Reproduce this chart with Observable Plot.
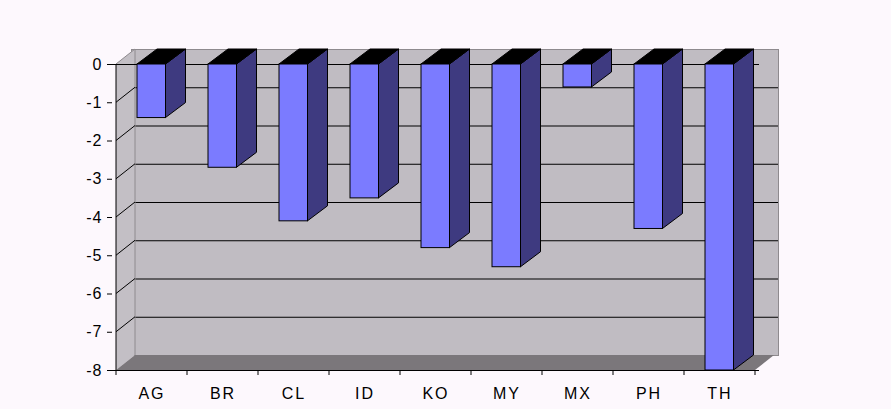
<!DOCTYPE html>
<html><head><meta charset="utf-8">
<script src="https://cdn.jsdelivr.net/npm/d3@7"></script>
<script src="https://cdn.jsdelivr.net/npm/@observablehq/plot@0.6"></script>
<style>
html,body{margin:0;padding:0;background:#fdf8fd;}
svg{display:block;}
g[aria-label="x-axis tick label"] text{letter-spacing:2px;}
g[aria-label="y-axis tick label"] text{letter-spacing:1px;}
</style></head><body><div id="chart"></div>
<script>
const countries = ["AG","BR","CL","ID","KO","MY","MX","PH","TH"];
const values = [-1.4,-2.7,-4.1,-3.5,-4.8,-5.3,-0.6,-4.3,-8.0];
const yTicks = [0,-1,-2,-3,-4,-5,-6,-7,-8];
const data = countries.map((c,i)=>({country:c, value:values[i]}));

const DX = 19, DY = -15;      // wall depth (px)
const BDX = 20, BDY = -15;    // bar depth (px)
const IL = 21, IR = 21.5;     // bar insets
const NS = "http://www.w3.org/2000/svg";
function el(tag, attrs){const e=document.createElementNS(NS,tag);for(const k in attrs)e.setAttribute(k,attrs[k]);return e;}
function poly(pts, attrs){return el("polygon", Object.assign({points: pts.map(p=>p.join(",")).join(" ")}, attrs));}

// left side wall + floor
function wallsMark(index, scales){
  const g = el("g",{});
  const x = scales.x, y = scales.y, bw = x.bandwidth();
  const x0 = x(countries[0]), x1 = x(countries[countries.length-1]) + bw;
  const yT = y(0), yB = y(-8);
  g.appendChild(poly([[x0,yT],[x0+DX,yT+DY],[x0+DX,yB+DY],[x0,yB]],{fill:"#c3bfc5",stroke:"none"}));
  g.appendChild(el("line",{x1:x0,y1:yT,x2:x0+DX,y2:yT+DY,stroke:"#8e8a8e"}));
  g.appendChild(el("line",{x1:x0+DX,y1:yT+DY,x2:x0+DX,y2:yB+DY,stroke:"#8e8a8e"}));
  for(const t of yTicks){ if(t===0||t===-8) continue;
    g.appendChild(el("line",{x1:x0,y1:y(t),x2:x0+DX,y2:y(t)+DY,stroke:"black"}));
  }
  g.appendChild(poly([[x0,yB],[x1,yB],[x1+DX,yB+DY],[x0+DX,yB+DY]],{fill:"#7b777b",stroke:"none"}));
  return g;
}

// bar sides and tops
function barDepthMark(index, scales){
  const g = el("g",{});
  const x = scales.x, y = scales.y, bw = x.bandwidth();
  for(const d of data){
    const xl = x(d.country)+IL, xr = x(d.country)+bw-IR, y0 = y(0), yv = y(d.value);
    g.appendChild(poly([[xr,y0],[xr+BDX,y0+BDY],[xr+BDX,yv+BDY],[xr,yv]],{fill:"#3e3a80",stroke:"black","stroke-width":1}));
    g.appendChild(poly([[xl,y0],[xr,y0],[xr+BDX,y0+BDY],[xl+BDX,y0+BDY]],{fill:"black",stroke:"black","stroke-width":1}));
  }
  return g;
}

// front axis lines and category boundary ticks
function axisLinesMark(index, scales){
  const g = el("g",{});
  const x = scales.x, y = scales.y, bw = x.bandwidth();
  const x0 = x(countries[0]);
  g.appendChild(el("line",{x1:x0,y1:y(0),x2:x0,y2:y(-8),stroke:"black"}));
  for(let i=0;i<=countries.length;i++){
    const xx = i<countries.length ? x(countries[i]) : x(countries[i-1])+bw;
    g.appendChild(el("line",{x1:xx,y1:y(-8),x2:xx,y2:y(-8)+5,stroke:"black"}));
  }
  return g;
}

const chart = Plot.plot({
  width: 891,
  height: 409,
  marginLeft: 112,
  marginRight: 132,
  marginTop: 64,
  marginBottom: 39,
  style: {background:"#fdf8fd", fontFamily:"'Liberation Sans', Arial, sans-serif", fontSize:"16px", color:"black"},
  x: {type:"band", domain: countries, padding: 0},
  y: {domain: [-8, 0]},
  marks: [
    Plot.frame({fill:"#c0bcc2", stroke:"#8e8a8e", dx: DX, dy: DY}),
    Plot.ruleY(yTicks.filter(t => t<0 && t>-8), {stroke:"black", dx: DX, dy: DY}),
    wallsMark,
    Plot.ruleY([0], {stroke:"black"}),
    barDepthMark,
    Plot.barY(data, {x:"country", y:"value", fill:"#7b7bff", stroke:"black", strokeWidth:1, insetLeft: IL, insetRight: IR}),
    Plot.ruleY([-8], {stroke:"black"}),
    axisLinesMark,
    Plot.axisY({ticks: yTicks, tickFormat: d => String(d), tickSize: 5, tickPadding: 5, fontSize: 16, label: null}),
    Plot.axisX({tickSize: 0, tickPadding: 17, fontSize: 16, label: null})
  ]
});
document.getElementById("chart").appendChild(chart);
</script></body></html>
